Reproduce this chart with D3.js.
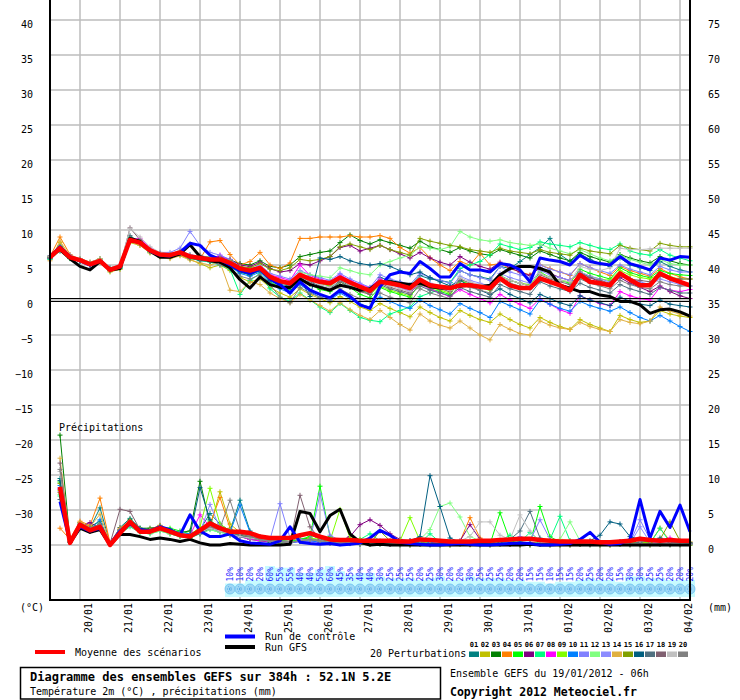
<!DOCTYPE html>
<html>
<head>
<meta charset="utf-8">
<script src="https://cdn.jsdelivr.net/npm/d3@7"></script>
<style>
body{margin:0;background:#fff}
svg{display:block;font-family:"DejaVu Sans Mono",monospace;font-size:10px}
</style>
</head>
<body>
<div id="chart-area"></div>
<script>
var tempTicks = [-35,-30,-25,-20,-15,-10,-5,0,5,10,15,20,25,30,35,40];
var mmTicks = [0,5,10,15,20,25,30,35,40,45,50,55,60,65,70,75];
var dayLabels = ["20/01","21/01","22/01","23/01","24/01","25/01","26/01","27/01","28/01","29/01","30/01","31/01","01/02","02/02","03/02","04/02"];
var dayHours = [18,42,66,90,114,138,162,186,210,234,258,282,306,330,354,378];
var snowPct = [10,10,20,20,60,55,55,40,40,50,60,45,35,40,40,30,25,25,25,
  20,25,30,20,20,30,25,25,25,20,20,15,15,10,15,15,20,25,20,20,15,30,30,25,25,20,20,20];
var pertColors = ["#008080","#c0c000","#008000","#ff8000","#00ff00","#800080","#00ff80","#ff00ff","#80ff00","#0080ff",
  "#8080ff","#80ff80","#8c8cff","#e0b040","#80a000","#005f80","#507080","#806070","#c0c0c0","#808080"];

// temperature 2m (°C), 65 values 0h..384h
var tempMean = [6.1,7.4,6.1,5.7,5.1,5.6,4.3,4.8,8.6,8.2,7.1,6.5,6.4,6.8,6.2,6.0,5.8,5.8,5.3,4.5,4.2,4.6,3.3,2.7,2.4,3.6,3.0,2.6,2.4,3.2,2.5,1.9,1.3,
  2.6,2.4,2.1,1.7, 2.9,2.1,1.9,1.7, 2.1,2.1,1.9,1.7, 3.1,2.1,1.7,1.7, 3.1,2.6,2.1,1.4, 3.6,2.6,2.4,2.1, 3.8,2.9,2.1,2.1, 3.8,3.1,2.6,2.1];
var tempCtrl = [6.2,7.6,6.2,5.6,5.0,5.6,4.4,4.7,8.6,8.2,7.0,6.4,6.3,6.8,8.1,7.8,6.4,5.8,5.0,4.2,3.8,4.4,3.0,2.2,1.0,2.6,1.4,0.8,0.3,1.4,0.5,-0.7,-1.2,
  1.9,3.6,4.0,3.8, 5.5,4.5,3.3,3.3, 5.2,4.3,4.3,4.0, 5.2,5.0,4.3,2.6, 6.0,5.7,5.5,5.0, 6.4,5.5,5.2,5.0, 6.2,5.2,4.8,4.3, 6.0,5.7,6.2,6.1];
var tempGfs = [6.3,7.2,5.9,4.8,4.3,5.5,4.3,4.5,8.8,8.4,7.0,6.1,6.1,6.6,7.9,6.2,5.6,5.4,4.6,2.9,1.7,3.3,2.2,1.8,1.8,3.0,2.2,1.8,1.4,2.1,1.8,1.4,1.6,
  2.6,2.6,2.4,2.2, 2.4,1.9,1.7,1.7, 2.0,2.1,1.9,2.1, 3.6,4.5,4.8,4.8, 4.5,4.0,2.1,1.7, 1.2,1.2,0.7,0.5, -0.2,-0.2,-0.7,-1.9, -1.4,-1.3,-1.7,-2.3];
var tempP01 = [6.0,7.8,6.2,5.5,5.0,5.8,4.5,4.6,8.9,8.0,7.0,6.4,6.2,6.6,6.0,5.6,5.5,5.9,5.0,4.3,3.8,4.4,3.0,2.2,2.0,3.4,2.8,2.4,2.0,3.0,2.6,2.0,1.5,
  3.2,2.8,2.5,2.0, 3.5,3.0,2.8,2.5, 4.2,3.6,3.3,3.0, 4.8,4.5,5.5,6.5, 7.5,8.8,6.5,5.5, 6.6,5.8,5.2,4.8, 6.0,5.0,4.6,4.2, 5.5,4.8,4.3,4.0];
var tempP02 = [5.8,8.2,6.0,5.9,5.3,5.4,4.0,4.4,8.2,7.8,6.8,6.2,6.0,6.4,5.8,5.2,4.6,5.0,4.2,3.2,2.6,3.0,1.8,1.0,0.4,1.6,0.8,0.2,-0.4,0.5,-0.2,-1.0,-1.5,
  -0.5,-1.2,-1.8,-2.4, -1.0,-1.8,-2.5,-3.0, -1.5,-2.2,-2.8,-3.2, -2.0,-2.8,-3.5,-4.0, -2.5,-3.2,-3.8,-4.2, -2.8,-3.5,-4.0,-4.5, -2.2,-2.8,-3.2,-3.0, -1.5,-2.0,-2.3,-2.5];
var tempP03 = [6.3,7.6,6.3,5.6,5.1,5.7,4.6,4.9,8.5,8.3,7.2,6.6,6.5,6.9,6.4,6.2,6.1,6.0,5.7,5.2,5.0,5.6,4.8,4.6,5.0,6.2,6.5,6.8,7.0,8.2,9.3,8.5,8.0,
  8.6,8.2,7.8,7.4, 8.4,7.6,7.2,6.8, 7.5,7.0,6.6,6.4, 7.2,6.8,6.4,6.0, 7.0,6.5,6.0,5.6, 6.8,6.2,5.8,5.4, 6.5,6.0,5.6,5.3, 6.2,5.6,5.2,5.0];
var tempP04 = [6.2,9.0,6.5,5.8,5.2,5.6,4.4,4.7,8.7,8.1,7.0,6.5,6.3,6.7,6.0,5.8,8.3,8.5,6.5,5.0,5.5,6.8,5.0,4.5,5.3,8.8,8.8,9.0,9.0,9.0,9.2,9.0,9.0,
  9.2,8.8,7.5,6.7, 7.5,6.0,5.0,4.2, 5.5,5.0,6.7,5.0, 5.2,4.5,4.0,3.6, 5.0,4.5,4.0,3.5, 5.2,4.6,4.0,3.5, 4.8,4.2,3.8,3.4, 4.5,3.8,3.3,3.0];
var tempP05 = [5.9,7.2,6.0,5.8,5.3,5.9,4.2,4.6,8.8,8.4,7.0,6.4,6.3,6.7,6.1,5.9,5.6,5.5,4.9,4.0,3.6,4.2,2.6,1.8,1.5,3.0,2.2,1.5,1.2,2.6,1.8,0.8,0.3,
  1.8,1.2,0.8,0.4, 2.5,1.6,1.2,0.8, 2.8,2.2,1.8,1.5, 3.5,2.8,2.4,2.0, 4.0,3.2,2.8,2.4, 4.4,3.8,3.4,3.0, 4.6,3.9,3.5,3.2, 4.2,3.8,3.6,3.5];
var tempP06 = [6.1,7.3,6.1,5.7,5.2,5.5,4.4,4.8,8.4,8.2,7.0,6.4,6.5,6.9,6.3,6.1,6.0,6.2,5.8,5.0,4.8,5.4,4.5,4.0,4.2,5.2,5.0,5.6,6.2,7.5,7.8,7.0,7.4,
  7.8,7.2,6.6,6.0, 6.8,6.0,5.4,5.0, 6.2,5.4,4.8,4.4, 5.4,4.6,4.0,3.5, 4.6,3.8,3.2,2.8, 4.0,3.2,2.6,2.0, 3.2,2.4,1.8,1.2, 2.0,1.2,0.6,0.2];
var tempP07 = [5.8,7.0,5.9,5.6,5.0,5.5,4.2,4.5,9.0,8.0,6.8,6.3,6.2,6.6,5.9,5.7,5.4,5.0,4.4,0.8,2.8,3.8,1.6,0.4,-0.2,1.0,0.0,-1.0,-1.8,-0.5,-1.5,-2.5,-2.9,
  -3.1,-2.0,-1.5,-1.0, 0.5,1.0,1.5,2.5, 4.5,5.0,5.5,6.5, 8.0,7.6,7.2,7.5, 8.3,8.0,7.8,7.6, 8.2,7.8,7.4,7.2, 8.0,7.0,6.6,6.4, 7.2,6.4,6.0,5.6];
var tempP08 = [6.0,7.5,6.2,5.7,5.0,5.6,4.3,4.9,8.6,8.8,7.4,6.7,6.4,6.6,6.2,5.9,5.8,6.4,5.6,4.6,4.2,4.8,3.6,3.2,2.8,5.0,3.5,3.0,2.6,3.6,2.8,2.2,1.8,
  3.0,2.4,1.8,1.2, 2.2,1.6,1.0,0.5, 1.5,0.8,0.2,-0.4, 0.8,0.0,-0.6,-1.2, 0.2,-0.6,-1.4,-1.9, 0.6,0.0,-0.5,-0.8, 1.2,0.6,0.2,0.0, 1.8,1.4,1.2,1.5];
var tempP09 = [6.1,7.6,6.0,5.9,5.4,5.8,4.5,4.8,8.5,8.3,7.1,6.5,6.4,6.8,6.2,6.0,5.9,5.6,5.0,4.4,4.0,4.6,3.2,2.6,2.2,3.4,2.9,2.4,2.0,3.0,2.2,1.4,0.8,
  2.0,1.4,1.0,0.6, 2.2,1.8,1.4,1.0, 2.8,2.2,1.8,1.4, 3.4,2.8,2.4,2.2, 3.8,3.2,2.8,2.6, 4.0,3.4,3.0,2.8, 4.2,3.6,3.2,3.0, 3.8,3.3,3.0,3.0];
var tempP10 = [5.9,7.4,6.1,5.6,5.0,5.5,4.2,4.6,8.6,8.1,7.0,6.4,6.3,6.6,6.0,5.8,5.6,5.5,4.8,3.8,3.4,4.0,2.4,1.6,1.0,2.2,1.2,0.4,0.0,1.0,0.2,-0.6,-1.0,
  0.4,-0.2,-0.8,-1.2, 0.0,-0.8,-1.4,-2.0, -0.5,-1.2,-1.8,-2.5, -0.2,-0.8,-1.4,-2.0, 0.0,-0.6,-1.2,-1.6, -0.2,-0.8,-1.2,-1.6, -1.0,-1.8,-2.5,-3.0, -2.2,-3.0,-3.8,-4.5];
var tempP11 = [6.3,7.7,6.4,5.8,5.2,5.7,4.4,4.7,8.7,8.4,7.3,6.8,6.8,7.4,9.8,7.8,6.8,6.4,5.8,4.8,4.4,5.0,3.8,3.4,3.0,4.2,3.6,3.2,2.8,3.8,3.0,2.4,1.8,
  3.6,3.0,2.6,2.2, 3.8,3.2,2.8,2.4, 4.2,3.6,3.2,2.8, 4.8,4.0,3.6,3.2, 5.0,4.4,4.0,3.6, 5.2,4.6,4.2,3.8, 5.0,4.4,4.0,3.6, 4.8,4.3,4.0,4.0];
var tempP12 = [6.0,7.3,6.0,5.7,5.1,5.6,4.3,4.7,8.6,8.0,6.9,6.3,6.2,6.6,6.0,5.8,5.6,5.6,5.2,4.4,4.0,4.6,3.4,2.8,2.6,4.0,3.6,3.4,3.2,4.6,4.2,3.8,3.6,
  5.0,5.5,6.0,6.4, 7.6,7.4,7.2,7.6, 9.8,9.0,8.6,8.4, 8.6,8.2,8.0,7.8, 8.0,7.4,7.0,6.6, 7.2,6.6,6.0,5.6, 6.4,5.8,5.4,5.0, 5.8,5.2,5.0,5.0];
var tempP13 = [6.2,7.5,6.2,5.9,5.4,5.9,4.6,5.0,8.3,8.0,7.0,6.6,6.6,7.0,6.5,6.2,6.0,5.8,5.2,4.6,4.2,4.8,3.4,2.8,2.6,3.8,3.2,2.8,2.4,3.4,2.6,2.0,1.6,
  2.8,2.2,1.8,1.4, 3.0,2.4,2.0,1.6, 3.4,2.8,2.4,2.0, 3.8,3.2,2.8,2.4, 4.2,3.6,3.2,2.8, 4.0,3.4,3.0,2.6, 3.6,3.0,2.6,2.2, 3.0,2.6,2.2,2.0];
var tempP14 = [5.6,8.4,6.3,5.9,5.4,5.9,4.1,4.4,8.4,7.8,6.7,6.1,5.9,6.3,5.7,5.3,5.0,5.4,1.4,1.2,2.6,2.2,1.0,0.2,-0.4,0.8,0.0,-0.8,-1.6,-0.4,-1.4,-2.2,-2.8,
  -1.5,-2.5,-3.5,-4.3, -2.0,-3.0,-3.6,-4.0, -3.0,-4.0,-5.0,-5.7, -3.5,-4.2,-4.8,-5.0, -3.0,-3.6,-4.0,-4.2, -3.2,-3.8,-4.2,-4.5, -2.8,-3.2,-3.4,-3.0, -1.0,-1.6,-2.0,-2.3];
var tempP15 = [6.2,7.6,6.1,5.8,5.2,5.7,4.5,4.8,8.6,8.4,7.2,6.6,6.5,6.9,6.3,6.0,5.9,6.0,5.6,4.8,4.6,5.2,4.4,4.2,4.6,5.8,5.6,5.8,6.2,7.6,8.0,7.6,7.2,
  7.8,7.2,6.8,6.4, 8.8,8.4,8.1,7.8, 7.6,7.2,7.0,6.8, 7.4,7.0,6.8,6.6, 7.2,6.8,6.6,6.4, 7.4,7.0,6.8,6.6, 7.8,7.4,7.2,7.0, 8.1,7.8,7.6,7.6];
var tempP16 = [6.0,7.4,6.0,5.6,5.0,5.5,4.3,4.7,8.5,8.1,7.0,6.4,6.2,6.6,6.0,5.7,5.5,5.4,4.8,4.0,3.6,4.2,2.8,2.0,1.8,3.0,0.5,6.0,5.8,6.2,5.6,5.2,5.0,
  5.2,4.8,4.2,3.6, 4.0,3.2,2.6,2.0, 2.8,2.0,1.4,0.8, 1.6,0.8,0.2,-0.4, 0.8,0.2,-0.4,-0.8, 0.6,0.0,-0.4,-0.8, 0.4,-0.2,-0.6,-0.8, 0.0,-0.6,-0.8,-1.0];
var tempP17 = [6.1,7.2,6.1,5.8,5.2,5.6,4.4,4.9,9.2,8.2,7.0,6.5,6.3,6.7,6.1,5.9,5.7,5.6,5.0,4.2,3.8,4.4,3.0,2.4,2.2,3.4,2.6,2.0,1.6,2.8,2.0,1.4,1.0,
  2.2,1.6,1.2,0.8, 2.0,1.4,1.0,0.6, 1.8,1.2,0.8,0.4, 2.2,1.6,1.2,0.8, 2.6,2.0,1.6,1.2, 2.4,1.8,1.4,1.0, 2.2,1.6,1.2,0.8, 1.8,1.4,1.0,1.0];
var tempP18 = [6.0,7.0,6.0,5.7,5.1,5.5,4.3,4.8,10.3,8.6,7.2,6.6,6.5,6.9,8.0,6.4,6.0,5.8,5.2,4.4,4.0,4.6,3.2,2.6,2.0,3.2,2.4,1.8,1.4,2.6,1.8,1.2,0.8,
  2.4,1.8,1.4,1.0, 2.6,2.0,1.6,1.2, 3.0,2.4,2.0,1.6, 3.4,2.8,2.4,2.0, 3.6,3.0,2.6,2.2, 3.8,3.2,2.8,2.4, 3.6,3.0,2.8,2.6, 3.4,3.0,3.0,3.0];
var tempP19 = [6.2,7.4,6.3,5.9,5.3,5.8,4.6,5.0,10.2,9.0,7.6,6.8,6.6,7.0,6.4,6.2,6.0,5.8,5.4,4.6,4.2,4.8,3.4,2.8,2.4,3.6,2.8,2.2,1.8,3.0,2.2,1.6,1.2,
  2.6,2.0,1.6,1.2, 2.8,2.2,1.8,1.4, 3.2,2.6,2.2,1.8, 3.4,2.8,2.4,2.0, 3.8,3.2,2.8,2.6, 4.8,4.4,4.2,4.6, 7.4,7.2,7.2,7.3, 7.4,7.4,7.4,7.4];
var tempP20 = [6.1,7.5,6.2,5.8,5.2,5.6,4.4,4.8,8.8,8.4,7.2,6.6,6.4,6.8,6.2,6.0,5.6,5.0,4.6,3.4,3.0,3.6,2.2,0.4,-0.4,1.8,1.0,0.4,0.0,1.6,0.8,0.2,-0.2,
  1.0,0.4,0.0,-0.4, 1.6,1.0,0.6,0.2, 2.4,1.8,1.4,1.0, 3.0,2.4,2.0,1.6, 3.2,2.6,2.2,1.8, 3.0,2.4,2.0,1.6, 2.8,2.2,1.8,1.6, 2.6,2.2,2.0,2.0];

// precipitation (mm / 6h), 64 values 6h..384h
var precMean = [8.3,0.3,2.9,2.1,2.6,0.0,1.7,3.3,1.9,1.9,2.4,1.9,1.4,1.2,2.1,3.1,2.4,1.9,1.9,1.7,1.2,1.0,1.0,1.0,1.4,1.7,1.2,0.8,0.7,0.7,0.6,0.6,
  0.6,0.6,0.5,0.5, 0.8,0.7,0.6,0.5, 0.5,0.5,0.6,0.6, 0.7,0.8,0.9,0.9, 0.7,0.6,0.5,0.5, 0.5,0.5,0.4,0.4, 0.5,0.6,0.9,0.7, 0.6,0.7,0.6,0.6];
var precCtrl = [6.2,0.4,2.6,2.0,2.4,0.1,2.0,3.0,2.2,2.0,2.6,2.2,1.4,4.3,2.0,1.2,1.2,1.6,0.6,0.3,0.2,0.1,0.6,2.6,0.4,0.2,0.1,0.2,0.0,0.1,0.3,1.0,
  2.1,1.4,0.4,0.2, 0.1,0.0,0.0,0.1, 0.2,0.1,0.0,0.0, 0.1,0.2,0.3,0.2, 0.0,0.0,0.1,0.2, 0.8,1.8,0.4,0.1, 0.2,0.8,6.5,1.0, 4.8,2.5,5.7,1.9];
var precGfs = [7.5,0.3,2.4,1.8,2.2,0.0,1.5,1.5,1.2,0.8,1.0,0.8,0.5,0.8,0.3,0.0,0.0,0.2,0.1,0.0,0.0,0.0,0.0,0.1,4.8,4.5,1.9,4.2,5.1,1.6,0.4,0.0,
  0.1,0.0,0.0,0.0, 0.0,0.0,0.0,0.0, 0.0,0.0,0.0,0.0, 0.0,0.0,0.0,0.1, 0.0,0.0,0.0,0.0, 0.0,0.0,0.0,0.0, 0.0,0.0,0.0,0.0, 0.0,0.0,0.0,0.0];
var precP01 = [9.5,0.5,3.0,2.4,5.3,0.2,2.5,3.8,2.4,2.2,2.8,2.0,1.6,1.0,2.2,4.5,3.0,2.0,6.4,2.0,1.2,0.8,0.6,0.5,1.2,1.5,0.8,0.5,0.3,0.4,0.3,0.2,
  0.3,0.2,0.1,0.1, 0.3,0.2,0.1,0.1, 0.2,0.1,0.1,0.1, 0.6,0.4,0.3,0.2, 0.3,0.2,0.2,0.1, 0.2,0.1,0.1,0.1, 0.3,0.2,0.4,0.3, 0.2,0.3,0.2,0.1];
var precP02 = [7.5,0.4,2.6,2.0,2.8,0.1,1.8,3.2,2.0,1.8,2.2,1.6,1.2,1.0,1.8,2.6,7.6,3.0,1.8,1.2,0.8,0.6,0.4,0.4,0.6,0.8,0.4,0.3,0.2,0.3,0.2,0.2,
  0.2,0.1,0.1,0.0, 0.2,0.1,0.0,0.0, 0.1,0.0,0.0,0.0, 0.2,0.1,0.0,0.0, 0.1,0.0,0.0,0.0, 0.1,0.1,0.0,0.0, 0.2,0.1,0.1,0.0, 0.2,0.1,0.1,0.0];
var precP03 = [15.7,0.6,3.2,2.6,3.4,0.2,2.2,3.6,2.4,2.4,2.6,2.2,1.8,2.0,9.1,3.0,2.0,1.4,1.2,0.8,0.6,0.4,0.3,0.4,0.8,1.0,0.5,0.3,0.2,0.2,0.1,0.1,
  0.1,0.1,0.0,0.0, 0.1,0.0,0.0,0.0, 0.2,0.1,0.0,0.0, 0.1,0.1,0.0,0.0, 0.1,0.0,0.0,0.0, 0.1,0.0,0.0,0.0, 0.1,0.0,0.0,0.0, 0.1,0.0,0.0,0.0];
var precP04 = [2.4,0.8,3.4,2.8,6.7,0.3,2.4,3.4,2.0,2.2,2.8,2.0,1.6,1.2,2.0,3.0,6.8,2.4,1.6,1.0,0.8,0.6,0.4,0.4,1.2,1.6,0.8,0.5,0.4,0.5,0.3,0.2,
  0.4,0.3,0.2,0.1, 0.3,0.2,0.2,0.1, 0.5,3.9,1.0,0.3, 0.6,0.8,0.5,0.3, 0.4,0.3,0.8,0.6, 0.5,0.3,0.2,0.2, 0.3,0.4,0.8,0.3, 2.4,0.6,0.5,0.4];
var precP05 = [9.0,0.4,2.8,2.2,3.0,0.1,2.0,3.2,2.2,2.0,2.6,2.4,2.0,1.6,2.2,3.4,2.6,2.2,1.6,1.2,1.0,0.8,0.6,0.5,0.8,1.2,8.4,1.2,0.5,0.4,0.3,0.2,
  0.3,0.2,0.1,0.1, 0.2,0.2,0.1,0.1, 0.3,0.2,0.2,0.1, 4.6,0.6,0.3,0.2, 5.5,1.2,0.4,0.2, 0.3,0.2,0.1,0.1, 0.4,0.3,0.2,0.2, 0.8,0.5,0.3,0.2];
var precP06 = [8.0,0.5,2.6,3.2,2.4,0.1,1.8,2.8,2.0,1.8,2.2,1.8,1.4,1.2,1.6,2.4,2.0,1.6,1.4,1.0,0.8,0.6,0.5,0.4,0.6,0.8,0.6,0.5,0.6,1.2,2.9,3.6,
  2.8,1.6,0.8,0.6, 0.4,0.3,0.2,0.2, 0.6,2.9,0.8,0.4, 0.3,0.2,0.2,0.1, 0.2,0.1,0.1,0.1, 0.2,0.1,0.1,0.1, 0.3,0.2,0.1,0.1, 0.2,0.1,0.1,0.1];
var precP07 = [7.0,0.4,2.4,2.0,2.6,0.1,1.6,2.6,1.8,1.6,2.0,1.6,1.2,1.0,1.6,2.2,1.8,1.6,1.4,1.2,1.0,0.8,0.6,0.5,0.6,0.8,0.5,0.4,0.3,0.4,0.8,1.6,
  0.6,0.4,0.3,0.2, 0.3,1.6,0.4,0.2, 0.5,0.3,0.2,0.2, 0.6,1.4,0.4,1.8, 0.6,0.8,4.1,0.6, 0.5,0.4,0.3,0.2, 0.4,0.3,0.2,0.2, 2.4,0.4,0.3,0.2];
var precP08 = [8.0,0.5,2.8,2.2,2.6,0.1,2.0,3.0,2.0,1.8,2.4,2.0,1.6,1.4,4.3,2.6,2.0,1.6,1.2,0.8,0.6,0.5,0.4,0.3,0.5,0.6,0.4,0.3,0.2,0.3,0.2,0.2,
  0.2,0.1,0.1,0.1, 0.2,0.1,0.1,0.1, 0.2,0.1,0.1,0.1, 0.2,0.1,0.1,0.1, 0.3,0.2,0.1,0.1, 0.4,0.3,0.2,0.1, 0.5,0.3,0.4,0.2, 0.6,1.0,0.4,0.3];
var precP09 = [7.8,0.5,2.6,2.4,2.8,0.2,2.0,3.0,2.2,2.0,2.6,2.0,1.6,1.4,2.6,8.1,3.0,2.0,1.6,1.2,0.8,0.6,0.5,0.4,0.6,1.0,0.8,0.6,5.1,1.0,0.8,0.4,
  0.3,0.2,0.6,3.9, 0.6,0.2,0.2,0.1, 0.4,0.3,0.2,0.2, 0.3,0.2,0.2,0.1, 0.4,0.3,0.2,0.2, 0.3,0.2,0.1,0.1, 0.2,0.3,0.4,0.3, 0.6,0.4,0.3,0.2];
var precP10 = [8.5,0.4,2.6,2.2,3.6,0.1,2.0,3.2,2.2,2.0,2.4,2.0,1.8,1.6,2.0,3.0,2.2,1.8,5.7,1.8,1.0,0.6,0.4,0.3,0.5,0.6,0.4,0.3,0.2,0.3,0.2,0.2,
  0.3,0.2,0.1,0.1, 0.6,0.4,0.2,0.1, 0.2,0.1,0.1,0.1, 0.3,0.2,0.1,0.1, 0.2,0.1,0.1,0.1, 0.2,0.1,0.1,0.1, 0.2,0.1,0.2,0.1, 0.3,0.2,0.1,0.1];
var precP11 = [8.2,0.5,2.8,2.4,2.6,0.2,1.8,2.8,2.0,1.8,2.2,1.8,1.6,1.4,1.8,2.4,2.6,2.0,1.8,1.4,1.0,0.8,5.9,1.0,0.8,0.6,7.3,1.4,0.6,0.4,0.3,0.3,
  0.4,0.3,0.2,0.2, 0.3,0.2,0.2,0.1, 0.4,0.3,0.2,0.2, 0.5,0.6,1.2,0.6, 3.6,0.8,0.5,0.3, 0.4,0.3,0.2,0.2, 0.4,0.3,3.6,0.8, 0.5,0.4,0.3,0.2];
var precP12 = [7.2,0.4,2.4,2.0,2.6,0.1,1.8,2.8,1.8,1.6,2.0,1.6,1.4,1.2,1.6,2.2,1.8,1.6,1.4,1.2,0.8,0.6,0.4,0.4,0.6,0.8,0.6,0.4,0.3,0.4,0.3,0.2,
  0.3,0.2,0.3,0.5, 0.8,2.2,5.5,6.0, 4.0,1.2,0.6,0.4, 0.3,0.2,0.2,0.1, 0.4,0.6,0.8,3.3, 0.6,0.4,0.3,0.2, 0.3,0.2,0.2,0.1, 0.3,0.2,0.2,0.1];
var precP13 = [7.6,0.5,2.6,2.2,2.8,0.1,1.8,3.0,2.0,1.8,2.4,1.8,1.4,1.2,1.8,5.8,2.4,2.0,1.6,1.2,0.8,0.6,0.5,0.4,0.6,0.8,0.5,0.4,0.3,0.3,0.2,0.2,
  0.2,0.2,0.1,0.1, 0.2,0.1,0.1,0.1, 0.3,0.2,0.2,0.1, 0.3,0.2,0.2,0.1, 0.2,0.2,0.1,0.1, 0.2,0.1,0.1,0.1, 0.3,0.2,2.6,0.4, 0.3,0.2,0.2,0.1];
var precP14 = [12.4,0.6,3.2,2.6,4.4,0.2,2.2,3.4,2.2,2.0,2.6,2.0,1.6,1.4,2.0,2.8,2.4,2.0,1.6,1.2,0.8,0.6,0.5,0.4,0.6,0.8,0.6,0.4,0.3,0.4,0.3,0.2,
  0.3,0.2,0.1,0.1, 0.2,0.1,0.1,0.1, 0.2,0.1,0.1,0.1, 0.2,0.1,0.1,0.1, 0.2,0.1,0.1,0.1, 0.2,0.1,0.1,0.1, 0.3,0.2,0.2,0.1, 0.2,0.2,0.1,0.1];
var precP15 = [8.8,0.5,2.8,2.2,2.8,0.1,2.0,3.0,2.0,1.8,2.2,1.8,1.4,1.2,1.8,2.6,2.2,1.8,1.4,1.0,0.8,0.6,0.5,0.4,0.6,0.8,0.6,0.4,0.3,0.4,0.3,0.2,
  2.0,0.6,0.4,0.3, 0.3,0.2,0.2,0.1, 0.3,0.2,0.2,0.1, 0.3,0.2,0.2,0.1, 0.3,0.2,0.2,0.1, 0.3,0.2,0.2,0.1, 0.4,0.3,0.2,0.3, 0.8,3.3,0.6,0.4];
var precP16 = [9.2,0.5,2.8,2.4,3.0,0.2,2.0,3.2,2.2,2.0,2.6,2.0,1.6,1.4,8.2,3.6,2.2,1.8,1.2,1.0,0.8,0.6,0.5,0.4,0.6,0.8,0.6,0.4,0.3,0.4,0.3,0.2,
  0.3,0.2,0.3,0.6, 1.2,9.9,5.5,1.0, 0.4,0.3,0.2,0.2, 0.3,0.2,0.2,0.1, 0.3,0.2,0.2,0.1, 0.3,0.6,1.4,3.3, 3.0,1.2,0.8,0.5, 1.0,0.6,0.4,0.3];
var precP17 = [6.5,0.4,2.4,2.0,2.4,0.1,1.8,3.0,2.0,1.8,2.2,1.8,1.4,1.2,1.6,2.4,2.0,1.6,1.4,1.0,0.8,0.6,0.5,0.4,0.6,0.8,0.6,0.4,0.3,0.3,0.2,0.2,
  0.2,0.2,0.1,0.1, 0.2,0.1,0.1,0.1, 0.4,0.3,0.2,0.2, 0.6,0.8,2.0,4.8, 1.0,0.4,0.3,0.2, 0.3,0.2,0.2,0.1, 0.3,0.2,0.4,0.6, 0.8,0.4,0.3,0.2];
var precP18 = [11.7,0.5,2.8,2.4,2.8,0.2,5.1,4.8,2.2,2.0,2.4,2.0,1.6,1.4,2.0,2.6,2.4,2.0,1.6,1.2,0.8,0.6,0.5,0.4,7.1,2.6,0.8,0.4,0.3,0.4,0.3,0.2,
  0.3,0.2,0.1,0.1, 0.2,0.1,0.1,0.1, 0.2,0.1,0.1,0.1, 0.2,0.1,0.1,0.1, 0.2,0.1,0.1,0.1, 0.2,0.1,0.1,0.1, 0.2,0.1,0.1,0.1, 0.2,0.1,0.1,0.1];
var precP19 = [10.5,0.5,2.8,2.2,2.8,0.1,2.0,3.0,2.0,1.8,2.2,1.8,1.4,1.2,1.8,2.4,2.0,1.6,1.2,1.0,0.8,0.6,0.5,0.4,0.6,0.8,0.6,0.4,0.3,0.4,0.3,0.2,
  0.2,0.2,0.1,0.1, 0.2,0.1,0.1,0.1, 0.6,1.2,3.3,3.3, 1.4,0.8,4.3,2.0, 0.4,0.3,0.2,0.2, 0.3,0.2,0.2,0.1, 0.3,0.2,0.2,0.1, 0.3,0.2,0.2,0.1];
var precP20 = [10.8,0.5,3.0,2.4,3.0,0.2,2.2,3.4,2.2,2.0,2.6,2.0,1.6,1.4,2.0,2.8,2.4,6.4,2.0,1.2,0.8,0.6,0.5,0.4,0.6,0.8,0.6,0.4,0.3,0.4,0.3,0.2,
  0.3,0.2,0.1,0.1, 0.2,0.1,0.1,0.1, 0.2,0.1,0.1,0.1, 0.2,0.1,0.1,0.1, 0.2,0.1,0.1,0.1, 0.2,0.1,0.1,0.1, 0.2,0.1,0.1,0.1, 0.2,0.1,0.1,0.1];

var tempPerts = [tempP01,tempP02,tempP03,tempP04,tempP05,tempP06,tempP07,tempP08,tempP09,tempP10,
  tempP11,tempP12,tempP13,tempP14,tempP15,tempP16,tempP17,tempP18,tempP19,tempP20];
var precPerts = [precP01,precP02,precP03,precP04,precP05,precP06,precP07,precP08,precP09,precP10,
  precP11,precP12,precP13,precP14,precP15,precP16,precP17,precP18,precP19,precP20];

var hours = d3.range(0, 385, 6);       // time axis of the run
var precHours = hours.slice(1);
var snowHours = hours.slice(18);

// ---- drawing ----
var svg = d3.select("#chart-area").append("svg")
    .attr("width", 740)
    .attr("height", 700);

var x = d3.scaleLinear().domain([0, 384]).range([50, 690]);
var y = d3.scaleLinear().domain([-300/7, 300/7]).range([600, 0]);
var yMm = d3.scaleLinear().domain([-300/7 + 35, 300/7 + 35]).range([600, 0]);

// grid
svg.append("g").selectAll("line").data(tempTicks).enter().append("line")
    .attr("x1", 50).attr("x2", 690)
    .attr("y1", d => y(d)).attr("y2", d => y(d))
    .attr("stroke", "#bdbdbd").attr("stroke-width", 1.5);
svg.append("g").selectAll("line").data(dayHours).enter().append("line")
    .attr("x1", d => x(d)).attr("x2", d => x(d))
    .attr("y1", 0).attr("y2", 600)
    .attr("stroke", "#bdbdbd").attr("stroke-width", 1.5);

// snow probability band
var snow = svg.append("g");
snow.selectAll("rect").data(snowPct).enter().append("rect")
    .attr("x", (d, i) => x(snowHours[i]) - 5)
    .attr("width", 10)
    .attr("y", d => 597 - (10 + d * 0.35))
    .attr("height", d => 10 + d * 0.35)
    .attr("fill", "#c8fbff");
snow.selectAll("circle").data(snowPct).enter().append("circle")
    .attr("cx", (d, i) => x(snowHours[i]))
    .attr("cy", 589).attr("r", 5)
    .attr("fill", "#9fd8f6").attr("stroke", "#6cc0ee").attr("stroke-width", 0.8);
snow.selectAll("path").data(snowPct).enter().append("path")
    .attr("transform", (d, i) => "translate(" + x(snowHours[i]) + ",589)")
    .attr("d", "M-3,0H3M-1.5,-2.6L1.5,2.6M-1.5,2.6L1.5,-2.6")
    .attr("stroke", "#3a9be0").attr("stroke-width", 0.8).attr("stroke-dasharray", "1,1");
snow.selectAll("text").data(snowPct).enter().append("text")
    .attr("transform", (d, i) => "translate(" + (x(snowHours[i]) + 3) + ",567) rotate(-90)")
    .attr("text-anchor", "end")
    .attr("font-size", "8px")
    .attr("fill", "#1a1aff")
    .text(d => d + "%");

// plume lines
var tempLine = d3.line().x((d, i) => x(hours[i])).y(d => y(d));
var precLine = d3.line().x((d, i) => x(precHours[i])).y(d => yMm(d));
var cross = "M-2.5,0H2.5M0,-2.5V2.5";

tempPerts.forEach((serie, k) => {
    var g = svg.append("g").attr("stroke", pertColors[k]).attr("fill", "none").attr("stroke-width", 1);
    g.append("path").attr("d", tempLine(serie));
    g.selectAll(".m").data(serie).enter().append("path")
        .attr("transform", (d, i) => "translate(" + x(hours[i]) + "," + y(d) + ")")
        .attr("d", cross);
});
precPerts.forEach((serie, k) => {
    var g = svg.append("g").attr("stroke", pertColors[k]).attr("fill", "none").attr("stroke-width", 1);
    g.append("path").attr("d", precLine(serie));
    g.selectAll(".m").data(serie).enter().append("path")
        .attr("transform", (d, i) => "translate(" + x(precHours[i]) + "," + yMm(d) + ")")
        .attr("d", cross);
});

// 0°C double line
svg.append("g").selectAll("line").data([-0.2, 0.2]).enter().append("line")
    .attr("x1", 50).attr("x2", 690)
    .attr("y1", d => y(0) + d * 7.5).attr("y2", d => y(0) + d * 7.5)
    .attr("stroke", "#000").attr("stroke-width", 1.2);

// GFS, control, mean on top
[[tempGfs, precGfs, "#000000", 3], [tempCtrl, precCtrl, "#0000ff", 3], [tempMean, precMean, "#ff0000", 4.5]].forEach(s => {
    svg.append("path").attr("d", tempLine(s[0])).attr("fill", "none")
        .attr("stroke", s[2]).attr("stroke-width", s[3]).attr("stroke-linejoin", "round");
    svg.append("path").attr("d", precLine(s[1])).attr("fill", "none")
        .attr("stroke", s[2]).attr("stroke-width", s[3]).attr("stroke-linejoin", "round");
});

// axes
var left = svg.append("g").attr("transform", "translate(50,0)")
    .call(d3.axisLeft(y).tickValues(tempTicks).tickSize(0).tickPadding(17));
left.select(".domain").remove();
left.selectAll("text").attr("dy", "0.73em").attr("font-family", "DejaVu Sans Mono").attr("font-size", 10);

var right = svg.append("g").attr("transform", "translate(690,0)")
    .call(d3.axisRight(yMm).tickValues(mmTicks).tickSize(0).tickPadding(18));
right.select(".domain").remove();
right.selectAll("text").attr("dy", "0.73em").attr("font-family", "DejaVu Sans Mono").attr("font-size", 10);

var bottom = svg.append("g").attr("transform", "translate(0,600)")
    .call(d3.axisBottom(x).tickValues(dayHours).tickSize(0).tickFormat((d, i) => dayLabels[i]));
bottom.select(".domain").remove();
bottom.selectAll("text")
    .attr("x", 0).attr("y", 0).attr("dy", 0)
    .attr("transform", "translate(11,3) rotate(-90)")
    .attr("text-anchor", "end")
    .attr("font-family", "DejaVu Sans Mono").attr("font-size", 10);

// frame
svg.append("line").attr("x1", 50).attr("x2", 50).attr("y1", 0).attr("y2", 601).attr("stroke", "#000").attr("stroke-width", 2);
svg.append("line").attr("x1", 690).attr("x2", 690).attr("y1", 0).attr("y2", 601).attr("stroke", "#000").attr("stroke-width", 2);
svg.append("line").attr("x1", 49).attr("x2", 691).attr("y1", 600).attr("y2", 600).attr("stroke", "#000").attr("stroke-width", 2);

// labels
svg.append("text").attr("x", 20).attr("y", 611).text("(°C)");
svg.append("text").attr("x", 708).attr("y", 611).text("(mm)");
svg.append("text").attr("x", 59).attr("y", 431).text("Précipitations");

// legend
svg.append("line").attr("x1", 35).attr("x2", 65).attr("y1", 652).attr("y2", 652).attr("stroke", "#ff0000").attr("stroke-width", 4);
svg.append("text").attr("x", 75).attr("y", 656).text("Moyenne des scénarios");
svg.append("line").attr("x1", 225).attr("x2", 255).attr("y1", 636.5).attr("y2", 636.5).attr("stroke", "#0000ff").attr("stroke-width", 4);
svg.append("text").attr("x", 265).attr("y", 640).text("Run de contrôle");
svg.append("line").attr("x1", 225).attr("x2", 255).attr("y1", 647).attr("y2", 647).attr("stroke", "#000").attr("stroke-width", 4);
svg.append("text").attr("x", 265).attr("y", 651).text("Run GFS");
svg.append("text").attr("x", 370).attr("y", 657).text("20 Perturbations");

var sw = svg.append("g");
sw.selectAll("rect").data(pertColors).enter().append("rect")
    .attr("x", (d, i) => 469 + i * 11).attr("y", 651.5)
    .attr("width", 10).attr("height", 5.5).attr("fill", d => d);
sw.selectAll("text").data(pertColors).enter().append("text")
    .attr("x", (d, i) => 474 + i * 11).attr("y", 647)
    .attr("text-anchor", "middle").attr("font-size", "7px").attr("font-weight", "bold")
    .text((d, i) => d3.format("02d")(i + 1));

// title box
svg.append("rect").attr("x", 20.5).attr("y", 667.5).attr("width", 420).attr("height", 31.5)
    .attr("fill", "none").attr("stroke", "#000").attr("stroke-width", 1.5);
svg.append("text").attr("x", 30).attr("y", 681).attr("font-size", "12px").attr("font-weight", "bold")
    .text("Diagramme des ensembles GEFS sur 384h : 52.1N 5.2E");
svg.append("text").attr("x", 30).attr("y", 695).text("Température 2m (°C) , précipitations (mm)");
svg.append("text").attr("x", 450).attr("y", 677).text("Ensemble GEFS du 19/01/2012 - 06h");
svg.append("text").attr("x", 450).attr("y", 696).attr("font-size", "11.5px").attr("font-weight", "bold")
    .text("Copyright 2012 Meteociel.fr");
</script>
</body>
</html>
